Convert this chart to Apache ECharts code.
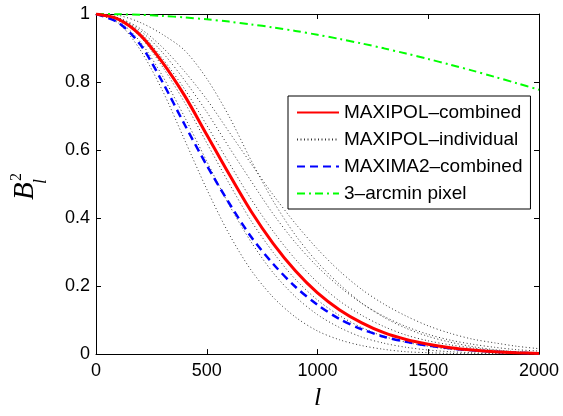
<!DOCTYPE html>
<html>
<head>
<meta charset="utf-8">
<script src="https://cdn.jsdelivr.net/npm/echarts@6/dist/echarts.min.js"></script>
<style>
html, body { margin: 0; padding: 0; background: #fff; }
#chart { width: 563px; height: 416px; }
</style>
</head>
<body>
<div id="chart"></div>
<script>
// multipole l, every 100
const ell = [0, 100, 200, 300, 400, 500, 600, 700, 800, 900, 1000,
    1100, 1200, 1300, 1400, 1500, 1600, 1700, 1800, 1900, 2000];

const maxipolCombined = [1, 0.985, 0.938, 0.858, 0.76, 0.645, 0.53, 0.42, 0.325, 0.245, 0.18,
    0.13, 0.092, 0.063, 0.043, 0.029, 0.019, 0.012, 0.007, 0.004, 0.002];

const maxima2Combined = [1, 0.975, 0.91, 0.80, 0.675, 0.555, 0.445, 0.345, 0.265, 0.198, 0.145,
    0.103, 0.073, 0.051, 0.036, 0.025, 0.017, 0.011, 0.007, 0.004, 0.002];

const pixelWindow = [1, 0.9994, 0.9975, 0.9943, 0.99, 0.9844, 0.9776, 0.9696, 0.9605, 0.9502, 0.9389,
    0.9266, 0.9133, 0.899, 0.8838, 0.8677, 0.8508, 0.8335, 0.8152, 0.7965, 0.7772];

// MAXIPOL individual beams (dotted)
const indiv1 = [1, 0.974, 0.894, 0.775, 0.63, 0.485, 0.354, 0.247, 0.167, 0.109, 0.068,
    0.042, 0.025, 0.014, 0.007, 0.004, 0.002, 0.001, 0.001, 0.001, 0];
const indiv2 = [1, 0.98, 0.918, 0.818, 0.697, 0.567, 0.44, 0.33, 0.239, 0.169, 0.116,
    0.078, 0.05, 0.032, 0.02, 0.012, 0.007, 0.004, 0.002, 0.001, 0.001];
const indiv3 = [1, 0.985, 0.933, 0.845, 0.74, 0.621, 0.503, 0.392, 0.299, 0.22, 0.159,
    0.113, 0.078, 0.052, 0.035, 0.023, 0.014, 0.009, 0.005, 0.003, 0.002];
const indiv4 = [1, 0.988, 0.945, 0.869, 0.779, 0.673, 0.563, 0.456, 0.361, 0.279, 0.211,
    0.156, 0.114, 0.081, 0.056, 0.039, 0.027, 0.018, 0.011, 0.007, 0.004];
const indiv5 = [1, 0.988, 0.951, 0.887, 0.805, 0.712, 0.609, 0.509, 0.412, 0.328, 0.257,
    0.198, 0.149, 0.111, 0.081, 0.058, 0.041, 0.029, 0.02, 0.013, 0.009];
const indiv6 = [1, 0.989, 0.957, 0.902, 0.831, 0.749, 0.654, 0.56, 0.468, 0.384, 0.309,
    0.244, 0.19, 0.147, 0.112, 0.083, 0.061, 0.044, 0.033, 0.023, 0.016];
const indiv7 = [1, 0.996, 0.975, 0.94, 0.893, 0.81, 0.7, 0.57, 0.45, 0.35, 0.27,
    0.205, 0.15, 0.108, 0.076, 0.052, 0.035, 0.022, 0.013, 0.007, 0.004];

const xTicks = { min: 0, max: 2000, interval: 500 };
const yTicks = { min: 0, max: 1, interval: 0.2 };

const NAME_COMB = 'MAXIPOL–combined';
const NAME_IND = 'MAXIPOL–individual';
const NAME_M2 = 'MAXIMA2–combined';
const NAME_PIX = '3–arcmin pixel';

function pairs(vals) {
    return ell.map((l, i) => [l, vals[i]]);
}

const chart = echarts.init(document.getElementById('chart'));

const axisCommon = {
    axisLine: { show: true, onZero: false, lineStyle: { color: '#000', width: 1 } },
    axisTick: { show: true, inside: true, length: 5, lineStyle: { color: '#000' } },
    splitLine: { show: false },
    axisLabel: { color: '#000', fontSize: 18, fontFamily: 'Liberation Sans, Arial', formatter: v => String(v) }
};

const individualSeries = [indiv1, indiv2, indiv3, indiv4, indiv5, indiv6, indiv7].map(arr => ({
    name: NAME_IND,
    type: 'line',
    symbol: 'none',
    smooth: 0.3,
    lineStyle: { color: '#333', width: 1, type: [1, 2.5] },
    itemStyle: { color: '#333' },
    data: pairs(arr),
    z: 2
}));

const option = {
    animation: false,
    backgroundColor: '#fff',
    grid: { left: 96, right: 24, top: 14, bottom: 47 },
    xAxis: [
        Object.assign({}, axisCommon, {
            type: 'value', position: 'bottom',
            min: xTicks.min, max: xTicks.max, interval: xTicks.interval,
            axisLabel: Object.assign({}, axisCommon.axisLabel, { margin: 8 }),
            name: 'l',
            nameLocation: 'middle',
            nameGap: 17,
            nameTextStyle: { fontFamily: 'Liberation Serif, Times New Roman', fontStyle: 'italic', fontSize: 26, color: '#000' }
        }),
        Object.assign({}, axisCommon, {
            type: 'value', position: 'top',
            min: xTicks.min, max: xTicks.max, interval: xTicks.interval,
            axisLabel: { show: false }
        })
    ],
    yAxis: [
        Object.assign({}, axisCommon, {
            type: 'value', position: 'left',
            min: yTicks.min, max: yTicks.max, interval: yTicks.interval,
            axisLabel: Object.assign({}, axisCommon.axisLabel, { margin: 6 })
        }),
        Object.assign({}, axisCommon, {
            type: 'value', position: 'right',
            min: yTicks.min, max: yTicks.max, interval: yTicks.interval,
            axisLabel: { show: false }
        })
    ],
    legend: {
        data: [NAME_COMB, NAME_IND, NAME_M2, NAME_PIX],
        orient: 'vertical',
        left: 288,
        top: 96,
        padding: [7, 8, 6, 8],
        itemWidth: 42,
        itemHeight: 14,
        itemGap: 8,
        itemStyle: { opacity: 0 },
        backgroundColor: '#fff',
        borderColor: '#000',
        borderWidth: 1,
        borderRadius: 0,
        selectedMode: false,
        textStyle: { color: '#000', fontSize: 19, lineHeight: 18, fontFamily: 'Liberation Sans, Arial', padding: [0, 0, 0, 0] }
    },
    graphic: [{
        type: 'group',
        x: 40,
        y: 200,
        rotation: Math.PI / 2,
        children: [
            { type: 'text', x: 0, y: 0, style: { text: 'B', font: 'italic 29px "Liberation Serif", "Times New Roman", serif', fill: '#000', textVerticalAlign: 'bottom', verticalAlign: 'bottom' } },
            { type: 'text', x: 19, y: -15, style: { text: '2', font: '16px "Liberation Serif", "Times New Roman", serif', fill: '#000', textVerticalAlign: 'bottom', verticalAlign: 'bottom' } },
            { type: 'text', x: 16, y: 10, style: { text: 'l', font: 'italic 18px "Liberation Serif", "Times New Roman", serif', fill: '#000', textVerticalAlign: 'bottom', verticalAlign: 'bottom' } }
        ]
    }],
    series: individualSeries.concat([
        {
            name: NAME_COMB,
            type: 'line',
            symbol: 'none',
            smooth: 0.3,
            lineStyle: { color: '#ff0000', width: 3 },
            itemStyle: { color: '#ff0000' },
            data: pairs(maxipolCombined),
            z: 4
        },
        {
            name: NAME_M2,
            type: 'line',
            symbol: 'none',
            smooth: 0.3,
            lineStyle: { color: '#0000ff', width: 2.5, type: [8, 5] },
            itemStyle: { color: '#0000ff' },
            data: pairs(maxima2Combined),
            z: 3
        },
        {
            name: NAME_PIX,
            type: 'line',
            symbol: 'none',
            smooth: 0.3,
            lineStyle: { color: '#00ff00', width: 2, type: [8, 4, 2, 4] },
            itemStyle: { color: '#00ff00' },
            data: pairs(pixelWindow),
            z: 3
        }
    ])
};

chart.setOption(option);
</script>
</body>
</html>
